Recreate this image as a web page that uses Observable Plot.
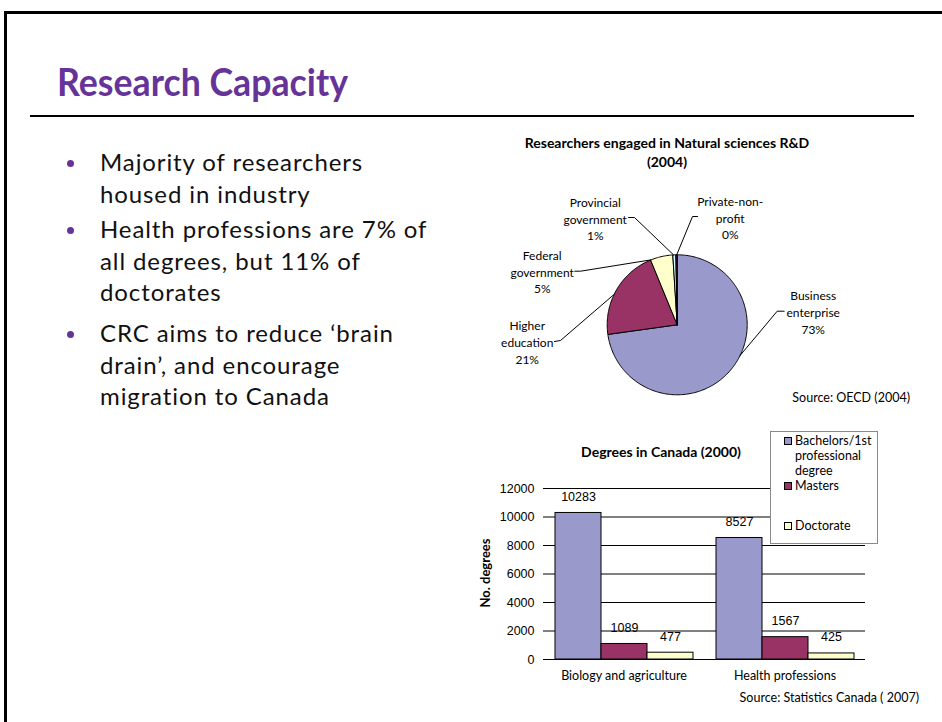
<!DOCTYPE html>
<html><head><meta charset="utf-8">
<script src="https://cdn.jsdelivr.net/npm/d3@7"></script>
<script src="https://cdn.jsdelivr.net/npm/@observablehq/plot@0.6"></script>
<style>
body{margin:0;background:#fff;}
#slide{position:relative;width:942px;height:722px;overflow:hidden;font-family:Lato,"Noto Sans",sans-serif;color:#000;}
#frame{position:absolute;left:4px;top:11px;width:1000px;height:800px;border-top:3px solid #000;border-left:3px solid #000;}
#title{position:absolute;left:57px;top:58px;font-size:38px;font-weight:700;color:#663399;transform-origin:0 0;white-space:nowrap;line-height:46px;}
#rule{position:absolute;left:30px;top:115px;width:884px;height:2px;background:#000;}
.bul{position:absolute;left:100px;font-size:24px;line-height:31.5px;white-space:nowrap;letter-spacing:0.9px;color:#111;}
.dot{position:absolute;width:7px;height:7px;border-radius:50%;background:#663399;}
.abs{position:absolute;white-space:nowrap;}
#pie,#bar{position:absolute;}
#bar svg [aria-label^="fx-axis"] text{font-family:Lato,"Noto Sans",sans-serif;}
#legend{position:absolute;left:770px;top:431px;width:106px;height:111px;border:1px solid #8a8a8a;background:#fff;z-index:2;}
.sw{position:absolute;width:6px;height:6px;border:1px solid #000;}
.lt{position:absolute;left:24px;font-size:12.5px;line-height:15px;white-space:nowrap;}
</style></head>
<body>
<div id="slide">
  <div id="frame"></div>
  <div id="title">Research Capacity</div>
  <div id="rule"></div>
  <div id="bullets"></div>
  <div class="abs" style="left:467px;top:133px;width:400px;text-align:center;font-weight:700;font-size:14px;line-height:19px;">Researchers engaged in Natural sciences R&amp;D<br>(2004)</div>
  <div id="pie" style="left:490px;top:185px;"></div>
  <div class="abs" style="right:32px;top:390px;font-size:12.5px;">Source: OECD (2004)</div>
  <div class="abs" style="left:511px;top:443px;width:300px;text-align:center;font-weight:700;font-size:14px;">Degrees in Canada (2000)</div>
  <div class="abs" style="left:485px;top:573px;font-weight:700;font-size:13px;transform:translate(-50%,-50%) rotate(-90deg);">No. degrees</div>
  <div id="bar" style="left:470px;top:470px;"></div>
  <div id="legend"></div>
  <div class="abs" style="right:23px;top:690px;font-size:12.5px;">Source: Statistics Canada ( 2007)</div>
</div>
<script>
// ---------- data ----------
const bulletTexts = [
  "Majority of researchers\nhoused in industry",
  "Health professions are 7% of\nall degrees, but 11% of\ndoctorates",
  "CRC aims to reduce \u2018brain\ndrain\u2019, and encourage\nmigration to Canada"
];
const sectors = ["Business enterprise", "Higher education", "Federal government", "Provincial government", "Private-non-profit"];
const sectorShares = [72.8, 21.0, 5.2, 0.7, 0.3];
const sectorLabels = ["Business\nenterprise\n73%", "Higher\neducation\n21%", "Federal\ngovernment\n5%", "Provincial\ngovernment\n1%", "Private-non-\nprofit\n0%"];
const sectorColors = ["#9999cc", "#993366", "#ffffcc", "#ccffff", "#660066"];

const categories = ["Biology and agriculture", "Health professions"];
const degreeTypes = ["Bachelors/1st professional degree", "Masters", "Doctorate"];
const bachelors = [10283, 8527];
const masters = [1089, 1567];
const doctorate = [477, 425];
const degreeColors = ["#9999cc", "#993366", "#ffffcc"];
const yTicks = [0, 2000, 4000, 6000, 8000, 10000, 12000];

// ---------- layout (not data) ----------
const R = 70; // pie radius in px
// label centre (offset from pie centre, px, y down), leader stub [start,end], leader target angle (deg clockwise from 12 o'clock)
const labelLayout = [
  {x: 136, y: -13, stub: [[107, -13.6], [100, -13.6]], target: 115.9},
  {x: -150, y: 17, stub: [[-122.7, 16.7], [-116.7, 15.7]], target: 295.8},
  {x: -135, y: -53.5, stub: [[-102.4, -53.6], [-96.7, -53.6]], target: 338.1},
  {x: -82, y: -106.5, stub: [[-48.7, -107.3], [-42.7, -107.3]], target: 357},
  {x: 53, y: -107.5, stub: [[20.3, -108.3], [15.3, -108.3]], target: 359.6}
];

// ---------- title fit ----------
const t = document.getElementById("title");
t.style.transform = `scaleX(${291 / t.getBoundingClientRect().width})`;

// ---------- bullets ----------
const bulletTops = [146, 213, 317];
const bEl = document.getElementById("bullets");
bulletTexts.forEach((txt, i) => {
  const d = document.createElement("div");
  d.className = "bul"; d.style.top = bulletTops[i] + "px";
  d.innerHTML = txt.split("\n").join("<br>");
  bEl.appendChild(d);
  const dot = document.createElement("div");
  dot.className = "dot"; dot.style.left = "67px"; dot.style.top = (bulletTops[i] + 14) + "px";
  bEl.appendChild(dot);
});

// ---------- pie ----------
const total = d3.sum(sectorShares);
let acc = 0;
const slicePts = [];
sectors.forEach((s, i) => {
  const a0 = acc / total * 360, a1 = (acc + sectorShares[i]) / total * 360;
  acc += sectorShares[i];
  const pts = [[0, 0]];
  const n = Math.max(2, Math.ceil(a1 - a0));
  for (let k = 0; k <= n; k++) {
    const a = (a0 + (a1 - a0) * k / n) * Math.PI / 180;
    pts.push([R * Math.sin(a), -R * Math.cos(a)]);
  }
  pts.push([0, 0]);
  pts.forEach(p => slicePts.push({sector: s, x: p[0], y: p[1]}));
});
const leaderPts = [];
const labelRows = [];
sectors.forEach((s, i) => {
  const L = labelLayout[i];
  const a = L.target * Math.PI / 180;
  leaderPts.push({sector: s, x: L.stub[0][0], y: L.stub[0][1]});
  leaderPts.push({sector: s, x: L.stub[1][0], y: L.stub[1][1]});
  leaderPts.push({sector: s, x: R * Math.sin(a), y: -R * Math.cos(a)});
  labelRows.push({sector: s, x: L.x, y: L.y, text: sectorLabels[i]});
});
const pie = Plot.plot({
  width: 440, height: 225,
  margin: 0,
  x: {domain: [-186.7, 253.3], range: [0, 440], axis: null},
  y: {domain: [-139.3, 85.7], range: [0, 225], axis: null},
  color: {domain: sectors, range: sectorColors},
  style: {fontFamily: "Lato, 'Noto Sans', sans-serif", background: "transparent", overflow: "visible"},
  marks: [
    Plot.line(slicePts, {x: "x", y: "y", z: "sector", fill: "sector", stroke: "#000", strokeWidth: 1, strokeLinejoin: "round"}),
    Plot.line(leaderPts, {x: "x", y: "y", z: "sector", stroke: "#000", strokeWidth: 1}),
    Plot.text(labelRows, {x: "x", y: "y", text: "text", fontSize: 12, lineHeight: 1.4, fill: "#000"})
  ]
});
document.getElementById("pie").appendChild(pie);

// ---------- bar chart ----------
const rows = [];
categories.forEach((c, i) => {
  rows.push({category: c, series: degreeTypes[0], value: bachelors[i]});
  rows.push({category: c, series: degreeTypes[1], value: masters[i]});
  rows.push({category: c, series: degreeTypes[2], value: doctorate[i]});
});
const bar = Plot.plot({
  width: 440, height: 220,
  marginLeft: 72, marginRight: 45, marginTop: 18, marginBottom: 31,
  facet: {data: rows, x: "category"},
  fx: {domain: categories, padding: 0, axis: "bottom", label: null, tickSize: 0, tickPadding: 12},
  x: {domain: degreeTypes, paddingInner: 0, paddingOuter: 0.24, axis: null},
  y: {domain: [0, 12000], ticks: yTicks, tickFormat: d3.format("d"), tickSize: 0, tickPadding: 9, label: null},
  color: {domain: degreeTypes, range: degreeColors},
  style: {fontFamily: "'Liberation Sans', Arial, sans-serif", fontSize: "12.5px", background: "transparent", overflow: "visible"},
  marks: [
    Plot.ruleY(yTicks, {stroke: "#000", strokeWidth: 1}),
    Plot.barY(rows, {x: "series", y: "value", fill: "series", stroke: "#000", strokeWidth: 1}),
    Plot.text(rows, {x: "series", y: "value", text: d => String(d.value), dy: -16, fontSize: 12.5, fill: "#000"})
  ]
});
document.getElementById("bar").appendChild(bar);

// ---------- legend ----------
const lg = document.getElementById("legend");
const legendTop = [4, 49, 89];
const legendText = ["Bachelors/1st<br>professional<br>degree", "Masters", "Doctorate"];
degreeTypes.forEach((s, i) => {
  const sw = document.createElement("div");
  sw.className = "sw"; sw.style.left = "13px"; sw.style.top = (legendTop[i] + 1) + "px";
  sw.style.background = degreeColors[i];
  lg.appendChild(sw);
  const tx = document.createElement("div");
  tx.className = "lt"; tx.style.top = (legendTop[i] - 3) + "px";
  tx.innerHTML = legendText[i];
  lg.appendChild(tx);
});
</script>
</body></html>
